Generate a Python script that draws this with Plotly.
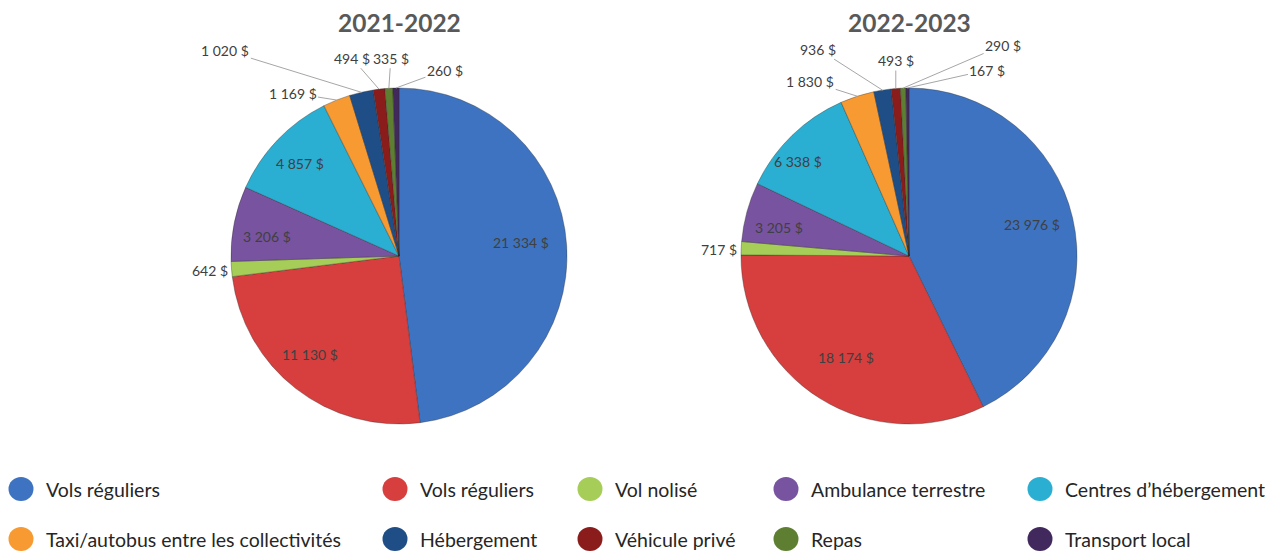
import math
import plotly.graph_objects as go

# ---------------- data ----------------
categories = ["Vols réguliers", "Vols réguliers", "Vol nolisé", "Ambulance terrestre",
              "Centres d’hébergement", "Taxi/autobus entre les collectivités",
              "Hébergement", "Véhicule privé", "Repas", "Transport local"]
values_2021 = [21334, 11130, 642, 3206, 4857, 1169, 1020, 494, 335, 260]
values_2022 = [23976, 18174, 717, 3205, 6338, 1830, 936, 493, 290, 167]
titles = ["2021-2022", "2022-2023"]

colors = ["#3E73C1", "#D73E3E", "#A5CD58", "#7853A0", "#2AAFD2",
          "#F79A32", "#1F4E86", "#8A1D1C", "#5E7F31", "#41295E"]

OFF = 8                      # page body margin
W, H = 1279 - OFF, 551 - OFF  # figure size
R = 168  # pie radius in px


def px(X):
    return (X - OFF) / W


def py(Y):
    return 1 - (Y - OFF) / H


# label placement: inside -> (radius fraction, dx, dy); outside -> (ax, ay) pixel offsets
pies = [
    dict(values=values_2021, cx=399, cy=256,
         inside={0: (0.73, 0, -6), 1: (0.79, -8, -6), 3: (0.80, 0, 6), 4: (0.82, 0, 3)},
         outside={2: (-22, 1), 5: (-44, -7), 6: (-136, -42), 7: (-27, -31), 8: (2, -30), 9: (49, -18)}),
    dict(values=values_2022, cx=909, cy=256,
         inside={0: (0.75, 0, -3), 1: (0.71, 0, 0), 3: (0.80, 0, 7), 4: (0.86, -10, 9)},
         outside={2: (-22, 1), 5: (-47, -15), 6: (-64, -41), 7: (0, -28), 8: (100, -43), 9: (80, -18)}),
]


def fmt(v):
    return f"{v:,}".replace(",", " ") + " $"


fig = go.Figure()
annotations = []
shapes = []

for i, p in enumerate(pies):
    vals = p["values"]
    fig.add_trace(go.Pie(
        labels=[f"{c}#{k}" for k, c in enumerate(categories)],
        values=vals, sort=False, direction="clockwise", rotation=0,
        marker=dict(colors=colors, line=dict(color="rgba(40,40,40,0.35)", width=1)),
        textinfo="none", hoverinfo="label+value", showlegend=False,
        domain=dict(x=[px(p["cx"] - R), px(p["cx"] + R)],
                    y=[py(p["cy"] + R), py(p["cy"] - R)]),
    ))
    annotations.append(dict(text=f"<b>{titles[i]}</b>", x=px(p["cx"]), y=py(22),
                            xref="paper", yref="paper", showarrow=False,
                            xanchor="center", yanchor="middle",
                            font=dict(family="Lato", size=24.5, color="#595959")))
    total = sum(vals)
    cum = 0
    for k, v in enumerate(vals):
        mid = (cum + v / 2) / total * 2 * math.pi
        cum += v
        if k in p["inside"]:
            frac, dx, dy = p["inside"][k]
            r = frac * R
            annotations.append(dict(text=fmt(v),
                                    x=px(p["cx"] + r * math.sin(mid) + dx),
                                    y=py(p["cy"] - r * math.cos(mid) + dy),
                                    xref="paper", yref="paper", showarrow=False,
                                    xanchor="center", yanchor="middle",
                                    font=dict(family="Lato", size=14, color="#404040")))
        elif k in p["outside"]:
            ax, ay = p["outside"][k]
            small = abs(ax) < 25 and abs(ay) < 5
            annotations.append(dict(text=fmt(v),
                                    x=px(p["cx"] + R * math.sin(mid)),
                                    y=py(p["cy"] - R * math.cos(mid)),
                                    xref="paper", yref="paper",
                                    ax=ax, ay=ay, showarrow=True, arrowhead=0,
                                    arrowwidth=1,
                                    arrowcolor="rgba(0,0,0,0)" if small else "#A6A6A6",
                                    standoff=0, startstandoff=0,
                                    font=dict(family="Lato", size=14, color="#404040")))

# manual legend (two rows, five columns)
legend_x = [21, 395, 590, 786, 1040]
legend_y = [489, 539]
for k, c in enumerate(categories):
    row, col = divmod(k, 5)
    mx, my = legend_x[col], legend_y[row]
    shapes.append(dict(type="circle", xref="paper", yref="paper",
                       x0=px(mx - 12.5), x1=px(mx + 12.5),
                       y0=py(my + 12), y1=py(my - 12),
                       fillcolor=colors[k], line=dict(width=0)))
    annotations.append(dict(text=c, x=px(mx + 23), y=py(my), xref="paper", yref="paper",
                            xanchor="left", yanchor="middle", showarrow=False,
                            font=dict(family="Lato", size=19.5, color="#262626")))

fig.update_layout(width=W, height=H, margin=dict(l=0, r=0, t=0, b=0),
                  paper_bgcolor="white", plot_bgcolor="white",
                  annotations=annotations, shapes=shapes)
fig.write_html("out.html")
